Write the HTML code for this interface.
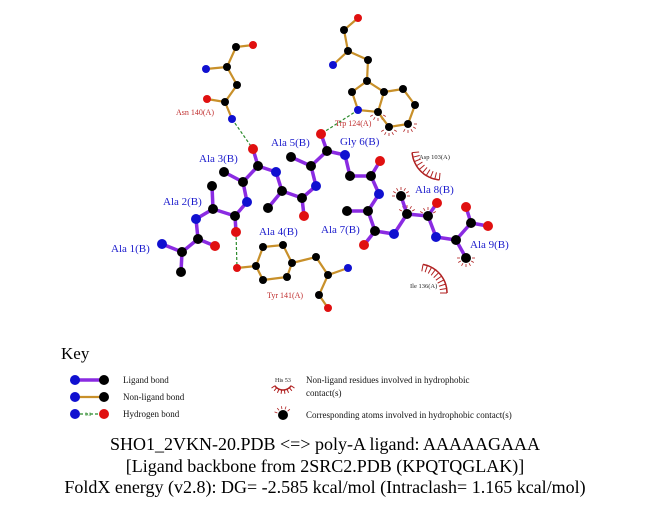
<!DOCTYPE html>
<html><head><meta charset="utf-8"><style>
html,body{margin:0;padding:0;background:#fff;width:651px;height:511px;overflow:hidden}
svg{display:block}
.lb{font-family:"Liberation Serif",serif;font-size:11px;fill:#1a1acc}
.rl{font-family:"Liberation Serif",serif;font-size:8px;fill:#c03030}
.bk{font-family:"Liberation Serif",serif;font-size:6.5px;fill:#222}
.kt{font-family:"Liberation Serif",serif;font-size:9px;fill:#111}
.tt{font-family:"Liberation Serif",serif;font-size:18px;fill:#000}
</style></head><body>
<svg id="s" width="651" height="511" viewBox="0 0 651 511" xmlns="http://www.w3.org/2000/svg">
<g id="hyd" stroke="#b02020" fill="none" stroke-width="1"></g>
<g stroke="#c8902a" stroke-width="2.2" fill="none">
<polyline points="253,45 236,47 227,67 237,85 225,102 207,99"/>
<line x1="206" y1="69" x2="227" y2="67"/><line x1="225" y1="102" x2="232" y2="119"/>
<polyline points="358,18 344,30 348,51 333,65"/>
<polyline points="348,51 368,60 367,81 352,92 358,110 378,112 384,92 367,81"/>
<polyline points="384,92 403,89 415,105 408,124 389,127 378,112"/>
<polygon points="263,247 283,245 292,263 287,277 263,280 256,266"/>
<line x1="256" y1="266" x2="237" y2="268"/>
<polyline points="292,263 316,257 328,275 348,268"/><polyline points="328,275 319,295 328,308"/>
<line x1="75" y1="397" x2="104" y2="397"/>
</g>
<g stroke="#8a2be2" stroke-width="3.5" fill="none" stroke-linejoin="round">
<polyline points="162,244 182,252 198,239 215,246"/><line x1="182" y1="252" x2="181" y2="272"/>
<polyline points="198,239 196,219 213,209 235,216 236,232"/><line x1="213" y1="209" x2="212" y2="186"/>
<polyline points="235,216 247,202 243,182 258,166 253,149"/><line x1="243" y1="182" x2="224" y2="172"/>
<polyline points="258,166 276,172 282,191 302,198 304,216"/><line x1="282" y1="191" x2="268" y2="208"/>
<polyline points="302,198 316,186 311,166 327,151 321,134"/><line x1="311" y1="166" x2="291" y2="157"/>
<polyline points="327,151 345,155 350,176 371,176 380,161"/>
<polyline points="371,176 379,194 368,211 375,231 364,245"/><line x1="368" y1="211" x2="347" y2="211"/>
<polyline points="375,231 394,234 407,214 428,216 437,203"/><line x1="407" y1="214" x2="401" y2="196"/>
<polyline points="428,216 436,237 456,240 471,223 466,207"/><line x1="471" y1="223" x2="488" y2="226"/><line x1="456" y1="240" x2="466" y2="258"/>
<line x1="75" y1="380" x2="104" y2="380"/>
</g>
<g stroke="#2a8a2a" stroke-width="1.2" stroke-dasharray="3,2" fill="none">
<line x1="232" y1="119" x2="253" y2="149"/><line x1="358" y1="110" x2="321" y2="134"/><line x1="236" y1="232" x2="237" y2="268"/>
<line x1="75" y1="414" x2="104" y2="414"/>
</g>
<g id="atoms"></g>
<text class="rl" x="176" y="115">Asn 140(A)</text>
<text class="rl" x="335" y="126">Trp 124(A)</text>
<text class="rl" x="267" y="298">Tyr 141(A)</text>
<text class="bk" x="419" y="159">Asp 103(A)</text>
<text class="bk" x="410" y="288">Ile 136(A)</text>
<text class="lb" x="199" y="162">Ala 3(B)</text>
<text class="lb" x="271" y="146">Ala 5(B)</text>
<text class="lb" x="340" y="145">Gly 6(B)</text>
<text class="lb" x="163" y="205">Ala 2(B)</text>
<text class="lb" x="111" y="252">Ala 1(B)</text>
<text class="lb" x="259" y="235">Ala 4(B)</text>
<text class="lb" x="321" y="233">Ala 7(B)</text>
<text class="lb" x="415" y="193">Ala 8(B)</text>
<text class="lb" x="470" y="248">Ala 9(B)</text>
<text x="61" y="359" style="font-family:'Liberation Serif',serif;font-size:17px">Key</text>
<text class="kt" x="123" y="383">Ligand bond</text>
<text class="kt" x="123" y="400">Non-ligand bond</text>
<text class="kt" x="123" y="417">Hydrogen bond</text>
<text style="font-family:'Liberation Serif',serif;font-size:5px" x="85" y="416" fill="#2a8a2a">3.0</text>
<text style="font-family:'Liberation Serif',serif;font-size:6px" x="275" y="382" fill="#222">His 53</text>
<text class="kt" x="306" y="383">Non-ligand residues involved in hydrophobic</text>
<text class="kt" x="306" y="396">contact(s)</text>
<text class="kt" x="306" y="418">Corresponding atoms involved in hydrophobic contact(s)</text>
<text class="tt" x="325" y="450" text-anchor="middle">SHO1_2VKN-20.PDB &lt;=&gt; poly-A ligand: AAAAAGAAA</text>
<text class="tt" x="325" y="472" text-anchor="middle">[Ligand backbone from 2SRC2.PDB (KPQTQGLAK)]</text>
<text class="tt" x="325" y="493" text-anchor="middle">FoldX energy (v2.8): DG= -2.585 kcal/mol (Intraclash= 1.165 kcal/mol)</text>
</svg>
<script>
var NS="http://www.w3.org/2000/svg";
var A=document.getElementById("atoms"),H=document.getElementById("hyd");
var K="#000",B="#1010d0",R="#e01010";
function c(x,y,r,f){var e=document.createElementNS(NS,"circle");e.setAttribute("cx",x);e.setAttribute("cy",y);e.setAttribute("r",r);e.setAttribute("fill",f);A.appendChild(e);}
function ln(x1,y1,x2,y2,w){var e=document.createElementNS(NS,"line");e.setAttribute("x1",x1);e.setAttribute("y1",y1);e.setAttribute("x2",x2);e.setAttribute("y2",y2);if(w)e.setAttribute("stroke-width",w);H.appendChild(e);}
[[162,244,B],[182,252,K],[198,239,K],[215,246,R],[181,272,K],[196,219,B],[213,209,K],[212,186,K],[235,216,K],[236,232,R],[247,202,B],[243,182,K],[224,172,K],[258,166,K],[253,149,R],[276,172,B],[282,191,K],[268,208,K],[302,198,K],[304,216,R],[316,186,B],[311,166,K],[291,157,K],[327,151,K],[321,134,R],[345,155,B],[350,176,K],[371,176,K],[380,161,R],[379,194,B],[368,211,K],[347,211,K],[375,231,K],[364,245,R],[394,234,B],[407,214,K],[401,196,K],[428,216,K],[437,203,R],[436,237,B],[456,240,K],[471,223,K],[466,207,R],[488,226,R],[466,258,K]].forEach(function(a){c(a[0],a[1],5,a[2]);});
[[253,45,R],[236,47,K],[227,67,K],[206,69,B],[237,85,K],[225,102,K],[207,99,R],[232,119,B],
[358,18,R],[344,30,K],[348,51,K],[333,65,B],[368,60,K],[367,81,K],[352,92,K],[358,110,B],[378,112,K],[384,92,K],[403,89,K],[415,105,K],[408,124,K],[389,127,K],
[263,247,K],[283,245,K],[292,263,K],[287,277,K],[263,280,K],[256,266,K],[237,268,R],[316,257,K],[328,275,K],[348,268,B],[319,295,K],[328,308,R]].forEach(function(a){c(a[0],a[1],4,a[2]);});
c(75,380,5,B);c(104,380,5,K);c(75,397,5,B);c(104,397,5,K);c(75,414,5,B);c(104,414,5,R);c(283,415,5,K);
function arc(cx,cy,r,a0,a1,inward,n,L){var pts=[];for(var i=0;i<=40;i++){var t=(a0+(a1-a0)*i/40)*Math.PI/180;pts.push((cx+r*Math.cos(t)).toFixed(1)+","+(cy+r*Math.sin(t)).toFixed(1));}
for(var i=0;i<=n;i++){var t=(a0+(a1-a0)*i/n)*Math.PI/180,x=cx+r*Math.cos(t),y=cy+r*Math.sin(t),d=inward?-L:L;ln(x,y,x+d*Math.cos(t),y+d*Math.sin(t));}
var p=document.createElementNS(NS,"polyline");p.setAttribute("points",pts.join(" "));p.setAttribute("stroke-width","1.5");H.appendChild(p);}
arc(442,150,30,95,175,true,9,7);
arc(418,293,29,-80,0,true,9,7);
arc(283,380,10,35,145,false,7,4);
function sp(x,y,a0,a1){for(var a=a0;a<=a1;a+=30){var t=a*Math.PI/180;ln(x+6*Math.cos(t),y+6*Math.sin(t),x+9*Math.cos(t),y+9*Math.sin(t),0.8);}}
sp(378,112,30,150);sp(408,124,0,120);sp(389,127,30,150);sp(401,196,180,360);sp(407,214,210,330);sp(428,216,210,330);sp(466,258,0,180);sp(283,415,200,340);
</script>
</body></html>
